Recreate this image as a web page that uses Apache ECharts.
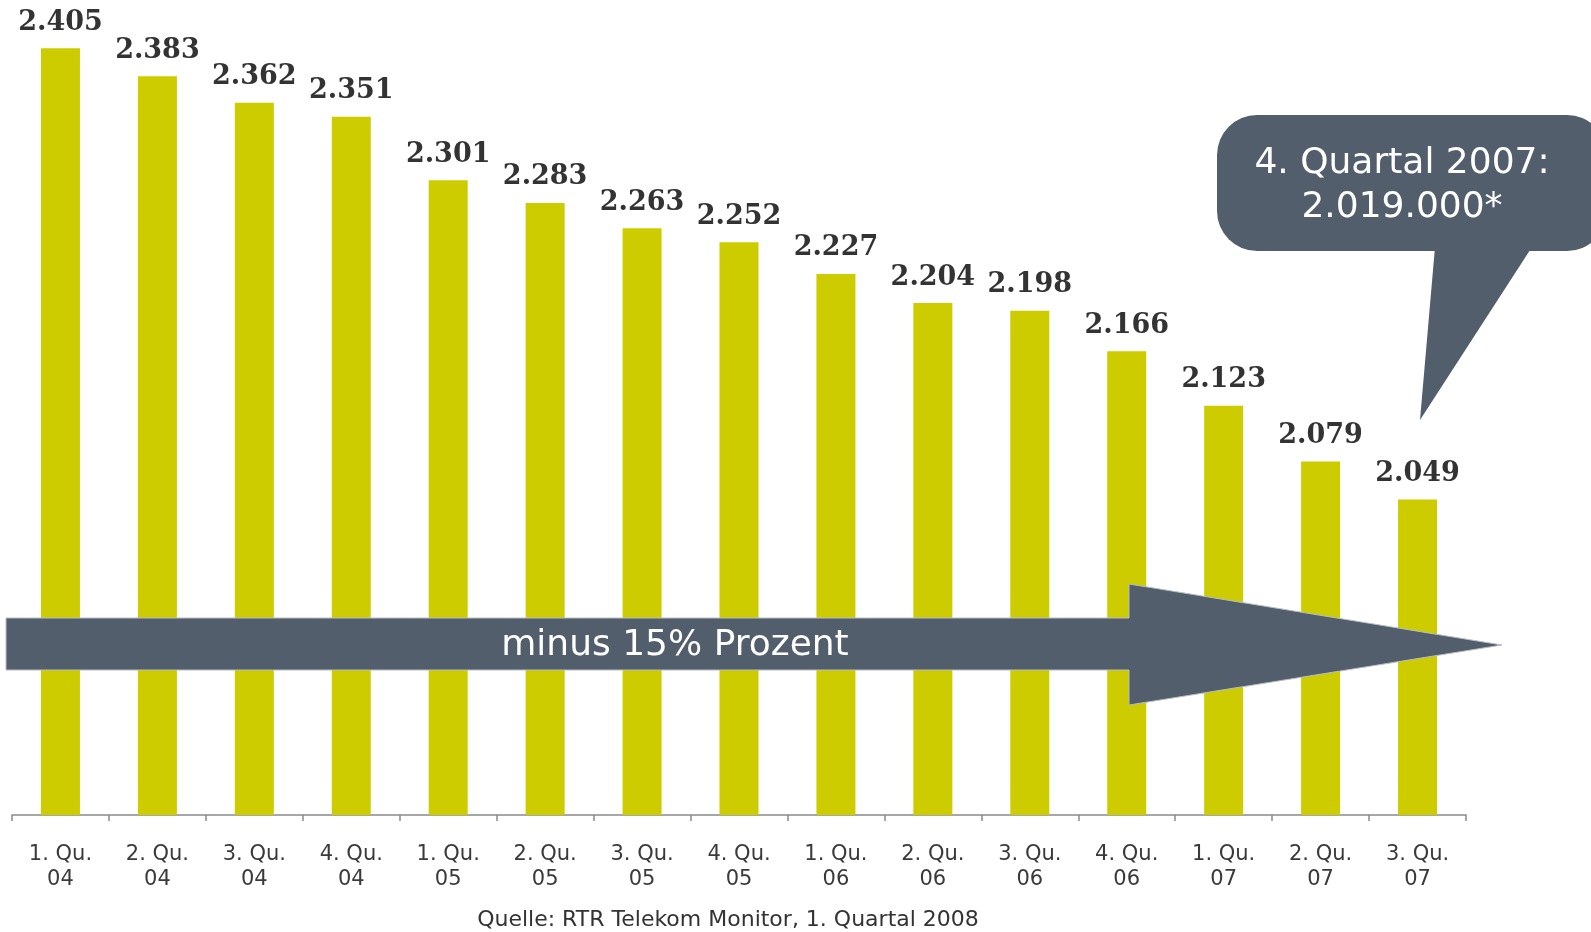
<!DOCTYPE html>
<html>
<head>
<meta charset="utf-8">
<script src="https://cdn.jsdelivr.net/npm/echarts@6/dist/echarts.min.js"></script>
<style>
  html, body { margin: 0; padding: 0; background: #ffffff; }
  #chart { width: 1591px; height: 932px; }
</style>
</head>
<body>
<div id="chart"></div>
<script>
// Quarterly counts (millions), Q1 2004 – Q3 2007
const quarters = ['1. Qu.', '2. Qu.', '3. Qu.', '4. Qu.', '1. Qu.', '2. Qu.', '3. Qu.', '4. Qu.',
                  '1. Qu.', '2. Qu.', '3. Qu.', '4. Qu.', '1. Qu.', '2. Qu.', '3. Qu.'];
const years = ['04', '04', '04', '04', '05', '05', '05', '05', '06', '06', '06', '06', '07', '07', '07'];
const values = [2.405, 2.383, 2.362, 2.351, 2.301, 2.283, 2.263, 2.252,
                2.227, 2.204, 2.198, 2.166, 2.123, 2.079, 2.049];

const categories = quarters.map((q, i) => q + '\n' + years[i]);

const slate = '#525e6b';
const chart = echarts.init(document.getElementById('chart'));

chart.setOption({
  backgroundColor: '#ffffff',
  animation: false,
  grid: { left: 12, right: 125, top: 4, bottom: 117 },
  xAxis: {
    type: 'category',
    data: categories,
    axisLine: { show: true, lineStyle: { color: '#8a8a8a', width: 1.5 } },
    axisTick: { show: true, length: 6, lineStyle: { color: '#8a8a8a', width: 1.5 } },
    axisLabel: {
      margin: 27,
      fontFamily: 'DejaVu Sans',
      fontSize: 21,
      lineHeight: 25,
      color: '#3a3a3a'
    }
  },
  yAxis: {
    type: 'value',
    min: 1.8,
    max: 2.44,
    show: false,
    splitLine: { show: false }
  },
  series: [{
    type: 'bar',
    data: values,
    barWidth: 39,
    itemStyle: { color: '#cccc00' },
    label: {
      show: true,
      position: 'top',
      distance: 12,
      fontFamily: 'DejaVu Serif',
      fontWeight: 'bold',
      fontSize: 27,
      color: '#333333',
      formatter: p => p.value.toFixed(3)
    }
  }],
  graphic: [
    // trend arrow across the bars
    {
      type: 'polygon',
      z: 100,
      shape: { points: [[6, 618], [1129, 618], [1129, 584], [1502, 645], [1129, 705], [1129, 670], [6, 670]] },
      style: { fill: slate, stroke: '#b8bec4', lineWidth: 1 }
    },
    {
      type: 'text',
      z: 101,
      x: 675, y: 646,
      style: {
        text: 'minus 15% Prozent',
        fill: '#ffffff',
        font: '36px "DejaVu Sans"',
        align: 'center',
        verticalAlign: 'middle'
      }
    },
    // speech bubble with the Q4 2007 figure
    {
      type: 'rect',
      z: 100,
      shape: { x: 1217, y: 115, width: 390, height: 136, r: 40 },
      style: { fill: slate }
    },
    {
      type: 'polygon',
      z: 100,
      shape: { points: [[1435, 247], [1532, 247], [1420, 420]] },
      style: { fill: slate }
    },
    {
      type: 'text',
      z: 101,
      x: 1402, y: 186,
      style: {
        text: '4. Quartal 2007:\n2.019.000*',
        fill: '#ffffff',
        font: '36px "DejaVu Sans"',
        lineHeight: 44,
        align: 'center',
        verticalAlign: 'middle'
      }
    },
    // source note
    {
      type: 'text',
      x: 728, y: 920,
      style: {
        text: 'Quelle: RTR Telekom Monitor, 1. Quartal 2008',
        fill: '#333333',
        font: '22px "DejaVu Sans"',
        align: 'center',
        verticalAlign: 'middle'
      }
    }
  ]
});
</script>
</body>
</html>
